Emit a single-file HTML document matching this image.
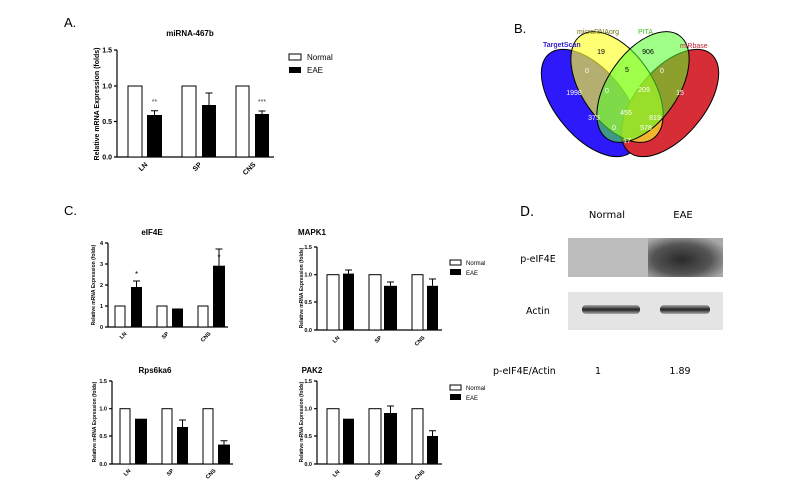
<!DOCTYPE html>
<html><head><meta charset="utf-8"><style>
html,body{margin:0;padding:0;background:#fff;}
svg{display:block;font-family:"Liberation Sans",Arial,sans-serif;}
.t{font-size:7px;font-weight:bold;}
.tk{font-size:5.5px;font-weight:bold;}
.yl{font-size:5px;font-weight:bold;}
.ti{font-size:8px;font-weight:bold;}
.b{fill:#fff;stroke:#000;stroke-width:1;}
.k{fill:#000;}
.ax{stroke:#000;stroke-width:1.2;fill:none;}
.e{stroke:#000;stroke-width:1;}
.vn{font-size:7px;fill:#fff;}
</style></head><body>
<svg width="807" height="492" viewBox="0 0 807 492" xmlns="http://www.w3.org/2000/svg">
<rect width="807" height="492" fill="#fff"/>

<!-- Panel A -->
<text x="64" y="27" font-size="13">A.</text>
<text x="190" y="36" class="ti" text-anchor="middle" font-size="9">miRNA-467b</text>
<path class="ax" d="M117,50 V157 H274 M114,50 H117 M114,86 H117 M114,121.5 H117 M114,157 H117"/>
<g class="t" text-anchor="end"><text x="112" y="52.5">1.5</text><text x="112" y="88.5">1.0</text><text x="112" y="124">0.5</text><text x="112" y="159.5">0.0</text></g>
<text transform="translate(99,104) rotate(-90)" class="t" text-anchor="middle" font-size="6.5">Relative mRNA Expression (folds)</text>
<rect class="b" x="128" y="86" width="14" height="71"/>
<rect class="k" x="147" y="115" width="15" height="42"/><path class="e" d="M154.5,115V110.7M151,110.7H158"/>
<rect class="b" x="182" y="86" width="14" height="71"/>
<rect class="k" x="202" y="105" width="14" height="52"/><path class="e" d="M209,105V93M205.5,93H212.5"/>
<rect class="b" x="236" y="86" width="13" height="71"/>
<rect class="k" x="255" y="114" width="14" height="43"/><path class="e" d="M262,114V111M258.5,111H265.5"/>
<text x="154.5" y="104" font-size="7" text-anchor="middle" fill="#444">**</text>
<text x="262" y="104" font-size="7" text-anchor="middle" fill="#444">***</text>
<g class="t" font-size="7" text-anchor="end">
<text transform="translate(148,165) rotate(-45)">LN</text>
<text transform="translate(202,165) rotate(-45)">SP</text>
<text transform="translate(256,165) rotate(-45)">CNS</text></g>
<rect class="b" x="289" y="54" width="12" height="6"/><rect class="k" x="289" y="67" width="12" height="6"/>
<text x="307" y="60" font-size="8">Normal</text><text x="307" y="73" font-size="8">EAE</text>

<!-- Panel B -->
<text x="514" y="33" font-size="13">B.</text>
<g stroke="#000" stroke-width="1">
<ellipse cx="590" cy="103" rx="64" ry="34" transform="rotate(50 590 103)" fill="rgb(45,25,250)"/>
<ellipse cx="670" cy="103" rx="64" ry="34" transform="rotate(-50 670 103)" fill="rgb(215,45,55)"/>
<ellipse cx="617" cy="87" rx="63" ry="35" transform="rotate(55 617 87)" fill="rgb(255,255,40)" fill-opacity="0.65"/>
<ellipse cx="643" cy="87" rx="63" ry="35" transform="rotate(-55 643 87)" fill="rgb(80,255,40)" fill-opacity="0.55"/>
</g>
<text x="543" y="47" font-size="7" font-weight="bold" fill="#3020d0">TargetScan</text>
<text x="577" y="34" font-size="7" fill="#707010">microRNAorg</text>
<text x="638" y="34" font-size="7" fill="#40c020">PITA</text>
<text x="680" y="48" font-size="7" fill="#c02030">miRbase</text>
<g text-anchor="middle" font-size="7">
<text x="601" y="54">19</text><text x="648" y="54">906</text>
<text x="587" y="73" class="vn">0</text><text x="627" y="72">5</text><text x="662" y="73" class="vn">0</text>
<text x="574" y="95" class="vn">1998</text><text x="607" y="93" class="vn">0</text><text x="644" y="92" class="vn">209</text><text x="680" y="95" class="vn">15</text>
<text x="594" y="120" class="vn">375</text><text x="626" y="115" class="vn">455</text><text x="655" y="120" class="vn">819</text>
<text x="614" y="130" class="vn">0</text><text x="646" y="130" class="vn">578</text><text x="627" y="143" class="vn">17</text></g>

<!-- Panel C -->
<text x="64" y="215" font-size="13">C.</text>
<text x="152" y="235" class="ti" text-anchor="middle">eIF4E</text>
<path class="ax" d="M108,243V327H228M105,243H108M105,264H108M105,285H108M105,306H108M105,327H108"/>
<g class="tk" text-anchor="end"><text x="103" y="245">4</text><text x="103" y="266">3</text><text x="103" y="287">2</text><text x="103" y="308">1</text><text x="103" y="329">0</text></g>
<text transform="translate(95,285) rotate(-90)" class="yl" text-anchor="middle">Relative mRNA Expression (folds)</text>
<rect class="b" x="115" y="306" width="10" height="21"/>
<rect class="k" x="131" y="287" width="11" height="40"/><path class="e" d="M136.5,287V281M133,281H140"/>
<rect class="b" x="157" y="306" width="10" height="21"/>
<rect class="k" x="172" y="308.5" width="11" height="18.5"/>
<rect class="b" x="198" y="306" width="10" height="21"/>
<rect class="k" x="213" y="265.7" width="12" height="61.3"/><path class="e" d="M219,265.7V249M215.5,249H222.5"/>
<text x="136.5" y="277" font-size="8" text-anchor="middle">*</text><text x="219" y="260" font-size="8" text-anchor="middle">*</text>
<g class="tk" text-anchor="end">
<text transform="translate(127,334) rotate(-45)">LN</text><text transform="translate(169,334) rotate(-45)">SP</text><text transform="translate(211,334) rotate(-45)">CNS</text></g>

<text x="312" y="235" class="ti" text-anchor="middle">MAPK1</text>
<path class="ax" d="M317,247V330H442M314,247H317M314,274.7H317M314,302H317M314,330H317"/>
<g class="tk" text-anchor="end"><text x="312" y="249">1.5</text><text x="312" y="276.7">1.0</text><text x="312" y="304">0.5</text><text x="312" y="332">0.0</text></g>
<text transform="translate(303,288) rotate(-90)" class="yl" text-anchor="middle">Relative mRNA Expression (folds)</text>
<rect class="b" x="327" y="274.7" width="12" height="55.3"/>
<rect class="k" x="343" y="273.6" width="11" height="56.4"/><path class="e" d="M348.5,273.6V270M345,270H352"/>
<rect class="b" x="369" y="274.7" width="12" height="55.3"/>
<rect class="k" x="384" y="285.8" width="13" height="44.2"/><path class="e" d="M390.5,285.8V282M387,282H394"/>
<rect class="b" x="412" y="274.7" width="11" height="55.3"/>
<rect class="k" x="427" y="285.8" width="11" height="44.2"/><path class="e" d="M432.5,285.8V279M429,279H436"/>
<g class="tk" text-anchor="end">
<text transform="translate(340,338) rotate(-45)">LN</text><text transform="translate(382,338) rotate(-45)">SP</text><text transform="translate(425,338) rotate(-45)">CNS</text></g>
<rect class="b" x="450" y="260" width="11" height="5"/><rect class="k" x="450" y="269" width="11" height="6"/>
<text x="466" y="265" font-size="6">Normal</text><text x="466" y="275" font-size="6">EAE</text>

<text x="155" y="373" class="ti" text-anchor="middle">Rps6ka6</text>
<path class="ax" d="M112,381V464H233M109,381H112M109,408.7H112M109,436H112M109,464H112"/>
<g class="tk" text-anchor="end"><text x="107" y="383">1.5</text><text x="107" y="410.7">1.0</text><text x="107" y="438">0.5</text><text x="107" y="466">0.0</text></g>
<text transform="translate(96,422) rotate(-90)" class="yl" text-anchor="middle">Relative mRNA Expression (folds)</text>
<rect class="b" x="120" y="408.7" width="10" height="55.3"/>
<rect class="k" x="135" y="418.7" width="12" height="45.3"/>
<rect class="b" x="162" y="408.7" width="10" height="55.3"/>
<rect class="k" x="177" y="427" width="11" height="37"/><path class="e" d="M182.5,427V420M179,420H186"/>
<rect class="b" x="203" y="408.7" width="10" height="55.3"/>
<rect class="k" x="218" y="444.6" width="12" height="19.4"/><path class="e" d="M224,444.6V440.8M220.5,440.8H227.5"/>
<g class="tk" text-anchor="end">
<text transform="translate(131,471) rotate(-45)">LN</text><text transform="translate(174,471) rotate(-45)">SP</text><text transform="translate(216,471) rotate(-45)">CNS</text></g>

<text x="312" y="373" class="ti" text-anchor="middle">PAK2</text>
<path class="ax" d="M317,381V464H442M314,381H317M314,408.7H317M314,436H317M314,464H317"/>
<g class="tk" text-anchor="end"><text x="312" y="383">1.5</text><text x="312" y="410.7">1.0</text><text x="312" y="438">0.5</text><text x="312" y="466">0.0</text></g>
<text transform="translate(303,422) rotate(-90)" class="yl" text-anchor="middle">Relative mRNA Expression (folds)</text>
<rect class="b" x="327" y="408.7" width="12" height="55.3"/>
<rect class="k" x="343" y="418.7" width="11" height="45.3"/>
<rect class="b" x="369" y="408.7" width="12" height="55.3"/>
<rect class="k" x="384" y="413" width="13" height="51"/><path class="e" d="M390.5,413V406M387,406H394"/>
<rect class="b" x="412" y="408.7" width="11" height="55.3"/>
<rect class="k" x="427" y="436" width="11" height="28"/><path class="e" d="M432.5,436V430.8M429,430.8H436"/>
<g class="tk" text-anchor="end">
<text transform="translate(340,472) rotate(-45)">LN</text><text transform="translate(382,472) rotate(-45)">SP</text><text transform="translate(425,472) rotate(-45)">CNS</text></g>
<rect class="b" x="450" y="385" width="11" height="5"/><rect class="k" x="450" y="394" width="11" height="6"/>
<text x="466" y="390" font-size="6">Normal</text><text x="466" y="400" font-size="6">EAE</text>

<!-- Panel D -->
<defs>
<radialGradient id="g1" cx="0.45" cy="0.55" r="0.65"><stop offset="0" stop-color="#2a2a2a"/><stop offset="0.6" stop-color="#555"/><stop offset="1" stop-color="#a8a8a8"/></radialGradient>
<linearGradient id="bd" x1="0" y1="0" x2="0" y2="1"><stop offset="0" stop-color="#aaa"/><stop offset="0.5" stop-color="#222"/><stop offset="1" stop-color="#aaa"/></linearGradient>
</defs>
<text x="520" y="216" font-size="13" font-family="'DejaVu Sans',sans-serif">D.</text>
<text x="607" y="218" font-size="10" text-anchor="middle" font-family="'DejaVu Sans',sans-serif">Normal</text>
<text x="683" y="218" font-size="10" text-anchor="middle" font-family="'DejaVu Sans',sans-serif">EAE</text>
<rect x="568" y="238" width="155" height="39" fill="#bdbdbd"/>
<rect x="648" y="238" width="75" height="39" fill="url(#g1)"/>
<text x="538" y="262" font-size="9.5" text-anchor="middle" font-family="'DejaVu Sans',sans-serif">p-eIF4E</text>
<rect x="568" y="292" width="155" height="38" fill="#e4e4e4"/>
<rect x="582" y="305" width="58" height="9" rx="4" fill="url(#bd)"/>
<rect x="660" y="305" width="50" height="9" rx="4" fill="url(#bd)"/>
<text x="538" y="314" font-size="9.5" text-anchor="middle" font-family="'DejaVu Sans',sans-serif">Actin</text>
<text x="493" y="374" font-size="9.5" font-family="'DejaVu Sans',sans-serif">p-eIF4E/Actin</text>
<text x="598" y="374" font-size="9.5" text-anchor="middle" font-family="'DejaVu Sans',sans-serif">1</text>
<text x="680" y="374" font-size="9.5" text-anchor="middle" font-family="'DejaVu Sans',sans-serif">1.89</text>
</svg>
</body></html>
